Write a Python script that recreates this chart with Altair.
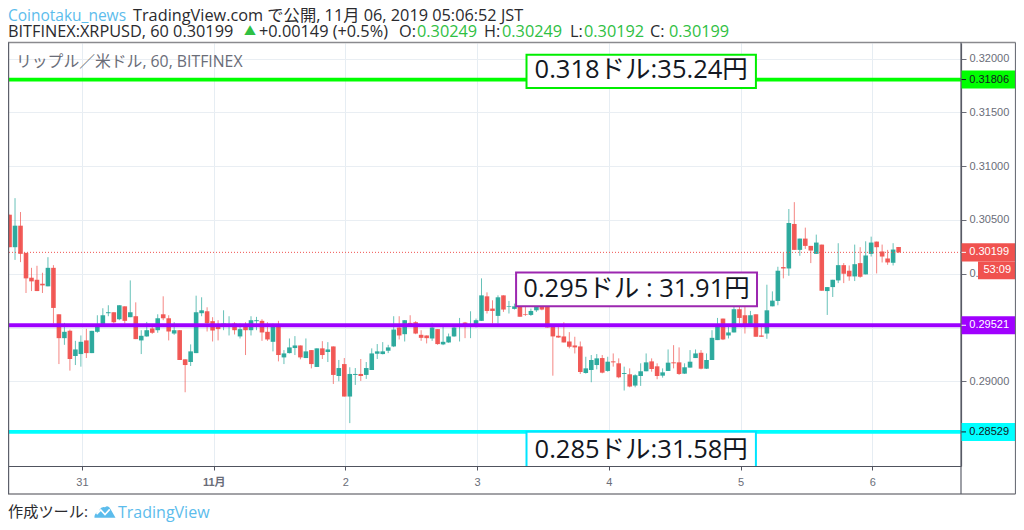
import json
import altair as alt
import pandas as pd

# Candles, hourly, in units of 0.00001 USD
opens = [30549,30247,30447,30194,29963,29944,29907,29883,30055,29623,29401,29469,29235,29253,29380,29262,29460,29531,29633,29642,29577,29697,29596,29605,29380,29417,29491,29475,29623,29586,29444,29475,29204,29179,29262,29633,29651,29559,29531,29528,29518,29537,29417,29506,
29475,29559,29562,29460,29367,29506,29222,29262,29309,29333,29216,29290,29133,29306,29272,29324,29049,29160,28858,29059,29068,29059,29105,29256,29253,29284,29324,29500,29438,29543,29549,29432,29426,29398,29485,29343,29361,29417,29512,29546,29512,29506,29562,29790,29676,29608,29799,29691,29673,29691,29623,29617,29660,29707,29691,29506,29423,29417,29370,29333,29324,29077,29105,29151,29216,29096,29185,29167,29068,29065,28960,29049,29093,29185,29139,29052,29096,29176,29176,29071,29127,29216,29265,29117,29198,29383,29583,29426,29454,29670,29614,29522,29623,29426,29444,29697,29747,30062,30049,30463,30222,30327,30259,30185,30271,29839,29876,29938,30080,30028,29975,30099,29994,30185,30299,30207,30142,30102,30249]
highs = [30549,30703,30574,30194,30055,30074,30009,30154,30080,29623,29543,29481,29376,29426,29488,29469,29614,29679,29707,29642,29707,29697,29938,29734,29475,29552,29506,29623,29790,29614,29549,29475,29204,29343,29796,29781,29688,29596,29568,29660,29605,29549,29537,29549,
29605,29599,29577,29549,29537,29562,29290,29398,29420,29333,29398,29290,29306,29373,29364,29324,29198,29216,29130,29123,29207,29179,29306,29346,29364,29339,29605,29605,29568,29614,29559,29475,29426,29543,29485,29509,29444,29522,29589,29552,29651,29583,29957,29827,29753,29799,29799,29747,29722,29722,29738,29676,29738,29738,29722,29522,29506,29549,29457,29414,29370,29228,29244,29253,29244,29228,29259,29213,29136,29120,29065,29167,29259,29213,29167,29120,29296,29336,29315,29167,29290,29296,29290,29259,29475,29589,29583,29531,29722,29707,29753,29654,29623,29512,29898,29836,30065,30194,30602,30666,30327,30429,30259,30364,30271,29876,29944,30284,30099,30077,30271,30247,30302,30345,30299,30271,30222,30284,30249]
lows = [30247,30129,30108,29821,29839,29839,29821,29883,29537,29160,29339,29099,29151,29136,29216,29262,29451,29531,29605,29537,29568,29537,29596,29392,29253,29414,29441,29451,29568,29380,29432,29198,28898,29142,29262,29605,29463,29370,29380,29475,29426,29435,29398,29244,
29426,29475,29376,29376,29278,29185,29160,29259,29244,29204,29216,29120,29133,29207,29179,28975,29000,28858,28611,28966,29003,29022,29105,29207,29250,29262,29318,29389,29370,29512,29438,29376,29352,29376,29339,29336,29358,29414,29370,29401,29401,29500,29562,29630,29537,29537,29645,29630,29667,29599,29608,29608,29645,29660,29500,29052,29404,29361,29306,29259,29068,29071,28991,29111,29074,29089,29136,29028,28914,28944,28944,28957,29093,29089,29019,29034,29096,29120,29059,29068,29127,29216,29111,29114,29198,29383,29383,29398,29454,29537,29444,29506,29414,29414,29395,29697,29707,29957,29981,30222,30167,30231,30099,30185,29842,29617,29784,29913,29913,29935,29932,29963,29994,30160,30003,30105,30083,30077,30192]
closes = [30247,30447,30185,29957,29929,29839,29892,30055,29682,29401,29460,29207,29296,29367,29262,29469,29522,29614,29642,29549,29707,29562,29642,29392,29423,29475,29451,29586,29586,29463,29475,29198,29151,29278,29642,29660,29540,29472,29485,29537,29528,29475,29485,29475,
29568,29568,29454,29389,29522,29244,29259,29315,29333,29222,29278,29160,29306,29244,29296,29059,29123,28858,29068,29068,29049,29123,29259,29278,29278,29315,29481,29426,29568,29512,29444,29404,29401,29500,29346,29367,29417,29500,29522,29506,29522,29568,29799,29654,29654,29781,29667,29697,29697,29599,29617,29654,29691,29667,29500,29417,29407,29361,29321,29315,29086,29120,29198,29213,29080,29182,29176,29037,29077,28951,29056,29093,29176,29114,29049,29083,29173,29167,29068,29130,29182,29259,29117,29198,29404,29522,29389,29454,29670,29589,29531,29614,29414,29414,29660,29750,30028,30049,30472,30222,30327,30259,30216,30290,29842,29876,29944,30080,30000,29975,30089,29972,30170,30290,30247,30160,30105,30225,30199]

day_ticks = [0, 24, 48, 72, 96, 120, 144]
day_labels = ["31", "11月", "2", "3", "4", "5", "6"]
price_ticks = [0.29, 0.295, 0.30, 0.305, 0.31, 0.315, 0.32]

line_prices = [0.31806, 0.29521, 0.28529]
line_colors = ["#00ff00", "#9c00ff", "#00ffff"]
last_price = 0.30199
countdown = "53:09"

box_texts = ["0.318ドル:35.24円", "0.295ドル : 31.91円", "0.285ドル:31.58円"]
box_colors = ["#00ee00", "#9c27b0", "#00e5ff"]
box_start = [81.0, 79.1, 81.0]
box_end = [122.8, 123.0, 122.8]
box_top = [0.32037, 0.30012, 0.28531]
box_bottom = [0.31728, 0.29697, 0.2800]

badge_prices = [0.31806, 0.30199, 0.29521, 0.28529]
badge_fill = ["#00ff00", "#f0524f", "#a000ff", "#00ffff"]
badge_ink = ["#131722", "#ffffff", "#ffffff", "#131722"]

UP = "#26a69a"
DOWN = "#f0524f"
GREY = "#6a6d78"
BLUE = "#5cbcec"
LIME = "#2fc043"
CJK = "Open Sans, Noto Sans CJK JP"
LATIN = "Liberation Sans"

xs = alt.Scale(domain=[-13.48, 160.17], nice=False, zero=False, padding=0)
ys = alt.Scale(domain=[0.28212, 0.32146], nice=False, zero=False, padding=0)

df = pd.DataFrame({
    "hour": [i - 13.2 for i in range(len(opens))],
    "open": [v / 100000 for v in opens],
    "high": [v / 100000 for v in highs],
    "low": [v / 100000 for v in lows],
    "close": [v / 100000 for v in closes],
})
df["color"] = [UP if c >= o else DOWN for o, c in zip(df["open"], df["close"])]

label_map = json.dumps({str(t): l for t, l in zip(day_ticks, day_labels)}, ensure_ascii=False)

x_axis = alt.Axis(
    values=day_ticks, grid=True, gridColor="#e6edf3", gridWidth=1, title=None,
    domainColor="#50535e", domainWidth=1.2, tickColor="#50535e", tickSize=4,
    labelColor=GREY, labelFontSize=11, labelFont=f"{LATIN}, Noto Sans CJK JP", labelPadding=6,
    labelExpr=f"{label_map}['' + datum.value]", labelFlush=False, labelOverlap=False,
    labelFontWeight={"condition": {"test": "datum.value == 24", "value": "bold"}, "value": "normal"},
)
y_axis = alt.Axis(
    orient="right", values=price_ticks, format=".5f", grid=True, gridColor="#e9eef3", gridWidth=1, title=None,
    domainColor="#50535e", domainWidth=1.2, tickColor=GREY, tickSize=5,
    labelColor=GREY, labelFontSize=11, labelFont=LATIN, labelPadding=3, labelOverlap=False,
)


def X(field):
    return alt.X(field, scale=xs, axis=x_axis)


def Y(field):
    return alt.Y(field, scale=ys, axis=y_axis)


colour = alt.Color("color:N", scale=None)
wicks = alt.Chart(df).mark_rule(strokeWidth=1, opacity=0.7).encode(
    x=X("hour:Q"), y=Y("high:Q"), y2="low:Q", color=colour)
bodies = alt.Chart(df).mark_bar(size=4.6, opacity=0.95).encode(
    x=X("hour:Q"), y=Y("open:Q"), y2="close:Q", color=colour)

last_line = alt.Chart(pd.DataFrame({"p": [last_price]})).mark_rule(
    color=DOWN, strokeWidth=1, strokeDash=[1, 2]
).encode(y=Y("p:Q"))

lines = alt.Chart(pd.DataFrame({"p": line_prices, "c": line_colors})).mark_rule(strokeWidth=3.8).encode(
    y=Y("p:Q"), color=alt.Color("c:N", scale=None))

box_df = pd.DataFrame({"a": box_start, "b": box_end, "t": box_top, "u": box_bottom, "c": box_colors, "s": box_texts})
boxes = alt.Chart(box_df).mark_rect(fill="#ffffff", strokeWidth=2, clip=True).encode(
    x=X("a:Q"), x2="b:Q", y=Y("t:Q"), y2="u:Q", stroke=alt.Stroke("c:N", scale=None))

# text centred in the visible part of each box
box_df["mid_x"] = [(a + b) / 2 for a, b in zip(box_start, box_end)]
box_df["mid_y"] = [0.31895, 0.29860, 0.28362]
box_labels = alt.Chart(box_df).mark_text(font=CJK, fontSize=25.5, color="#131722", baseline="middle", align="center").encode(
    x=X("mid_x:Q"), y=Y("mid_y:Q"), text="s:N")

RIGHT_L, RIGHT_R = 953, 1007.5
badge_df = pd.DataFrame({"p": badge_prices, "f": badge_fill, "k": badge_ink})
badge_df["label"] = [f"{p:.5f}" for p in badge_prices]
badge_base = alt.Chart(badge_df).transform_calculate(top="datum.p + 0.00084", bot="datum.p - 0.00084")
badges = badge_base.mark_rect().encode(
    x=alt.value(RIGHT_L), x2=alt.value(RIGHT_R),
    y=Y("top:Q"), y2="bot:Q", fill=alt.Fill("f:N", scale=None))
badge_ticks = alt.Chart(badge_df).mark_rule(strokeWidth=1).encode(
    x=alt.value(RIGHT_L), x2=alt.value(RIGHT_L + 5),
    y=Y("p:Q"), color=alt.Color("k:N", scale=None))
badge_text = alt.Chart(badge_df).mark_text(font=LATIN, fontSize=11, align="left", baseline="middle").encode(
    x=alt.value(961.3), y=Y("p:Q"), text="label:N", color=alt.Color("k:N", scale=None))

count_df = pd.DataFrame({"p": [last_price], "s": [countdown]})
count_base = alt.Chart(count_df).transform_calculate(
    top="datum.p - 0.00084", bot="datum.p - 0.00251", mid="datum.p - 0.00167")
count_rect = count_base.mark_rect(fill=DOWN).encode(
    x=alt.value(970), x2=alt.value(RIGHT_R), y=Y("top:Q"), y2="bot:Q")
count_text = count_base.mark_text(font=LATIN, fontSize=11, color="#ffffff", align="left", baseline="middle").encode(
    x=alt.value(975.5), y=Y("mid:Q"), text="s:N")


def frame(x, x2, y, y2, color, width):
    return alt.Chart(pd.DataFrame({"v": [0]})).mark_rule(color=color, strokeWidth=width).encode(
        x=alt.value(x), x2=alt.value(x2), y=alt.value(y), y2=alt.value(y2))


frames = [
    frame(0, RIGHT_R, -0.5, -0.5, "#8a8a8e", 1.6),
    frame(0, RIGHT_R, 451, 451, "#a2a2a6", 1.8),
    frame(0.6, 0.6, -0.5, 451, "#5d606b", 1.2),
    frame(RIGHT_R, RIGHT_R, -0.5, 451, "#6d7079", 1.2),
    frame(953, 953, -0.5, 451, "#5d606b", 1.2),
]


def note(text, px, py, color="#2a2a2e", size=16.3, font=CJK, align="left", weight="normal"):
    """px, py are page coordinates of the reference."""
    return alt.Chart(pd.DataFrame({"t": [text]})).mark_text(
        font=font, fontSize=size, color=color, align=align, baseline="middle", fontWeight=weight
    ).encode(x=alt.value(px - 8), y=alt.value(py - 43), text="t:N")


notes = [
    note("Coinotaku_news", 8, 16, color=BLUE, size=15.5),
    note("TradingView.com で公開, 11月 06, 2019 05:06:52 JST", 133, 16),
    note("BITFINEX:XRPUSD, 60 0.30199", 8, 32),
    note("▲", 244, 32, color=LIME, size=12),
    note("+0.00149 (+0.5%)", 259, 32),
    note("O:", 399, 32),
    note("0.30249", 417, 32, color=LIME),
    note("H:", 484, 32),
    note("0.30249", 502, 32, color=LIME),
    note("L:", 570, 32),
    note("0.30192", 584, 32, color=LIME),
    note("C:", 650, 32),
    note("0.30199", 669, 32, color=LIME),
    note("リップル／米ドル, 60, BITFINEX", 16, 62, color=GREY, size=15.8),
    note("作成ツール:", 8, 512, size=15.2),
    note("TradingView", 118, 513, color=BLUE, size=16),
]

cloud = alt.Chart(pd.DataFrame({"t": [0]})).mark_point(
    shape="M-1,0.55 Q-1.05,0.1 -0.62,0.02 Q-0.45,-0.55 0,-0.45 Q0.3,-0.72 0.55,-0.25 L1,0.55 Z",
    filled=True, size=441, color=BLUE, opacity=1,
).encode(x=alt.value(97), y=alt.value(469))
cloud_line = alt.Chart(pd.DataFrame({"t": [0]})).mark_point(
    shape="M-0.8,0.2 L-0.4,-0.2 L0,0.25 L0.45,-0.25",
    filled=False, size=441, color="#ffffff", strokeWidth=1.6, opacity=1,
).encode(x=alt.value(97), y=alt.value(469))

chart = alt.layer(
    wicks, bodies, last_line, lines, boxes, box_labels,
    badges, badge_ticks, badge_text, count_rect, count_text,
    *frames, *notes, cloud, cloud_line,
).properties(
    width=953, height=423,
    padding={"left": 0, "top": 35, "right": 55, "bottom": 56},
    autosize=alt.AutoSizeParams(type="none"),
).configure_view(stroke=None)

chart.save("out.html", embed_options={"renderer": "svg", "actions": False})
